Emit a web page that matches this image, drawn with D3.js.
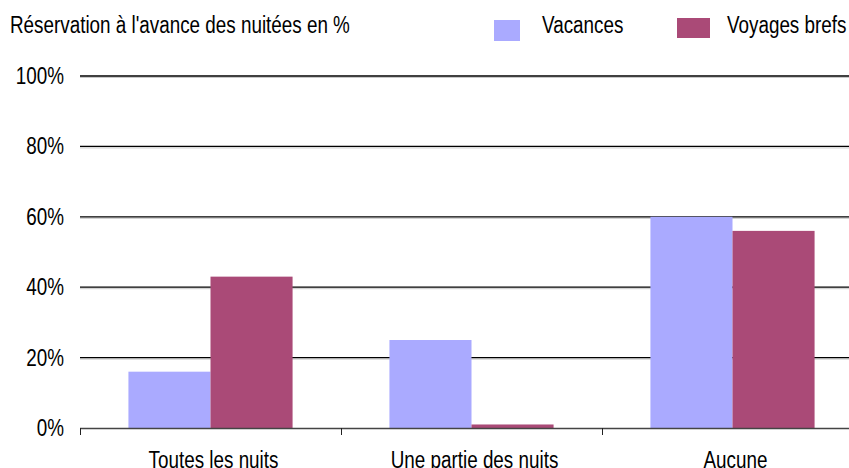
<!DOCTYPE html>
<html><head><meta charset="utf-8">
<script src="https://cdn.jsdelivr.net/npm/d3@7"></script>
<style>body{margin:0;background:#fff}svg{display:block}text{font-family:"Liberation Sans Narrow","Liberation Sans",Arial,sans-serif;fill:#000;font-size:23px}</style>
</head><body><svg id="c" width="849" height="468"></svg>
<script>
const categories = ["Toutes les nuits", "Une partie des nuits", "Aucune"];
const seriesNames = ["Vacances", "Voyages brefs"];
const vacances = [16, 25, 60];
const voyagesBrefs = [43, 1, 56];
const yTicks = [0, 20, 40, 60, 80, 100];
const colors = ["#aaaaff", "#aa4a77"];
const title = "Réservation à l'avance des nuitées en %";

(function () {
const svg = d3.select("#c");
const SX = 0.82;
const mLeft = 80, mRight = 863, mTop = 76, mBottom = 428;
const x = d3.scaleBand().domain(categories).range([mLeft, mRight]).paddingInner(0).paddingOuter(0);
const x1 = d3.scaleBand().domain(seriesNames).range([0, x.bandwidth()]).paddingOuter(0.59).paddingInner(0);
const y = d3.scaleLinear().domain([0, 100]).range([mBottom, mTop]);
const values = [vacances, voyagesBrefs];

function txt(px, py, s, anchor) {
  return svg.append("text").attr("transform", `translate(${px},${py}) scale(${SX},1)`)
    .attr("text-anchor", anchor || "start").text(s);
}

const g = svg.append("g");
yTicks.filter(t => t > 0).forEach(t => {
  g.append("line").attr("x1", mLeft).attr("x2", 849).attr("y1", y(t) + 1.5).attr("y2", y(t) + 1.5).attr("stroke", "#c8c8c8").attr("stroke-width", 1);
  g.append("line").attr("x1", mLeft).attr("x2", 849).attr("y1", y(t)).attr("y2", y(t)).attr("stroke", "#000").attr("stroke-width", 1.3);
});

seriesNames.forEach((s, si) => {
  svg.append("g").selectAll("rect").data(categories).join("rect")
    .attr("x", c => x(c) + x1(s))
    .attr("width", x1.bandwidth())
    .attr("y", (c, i) => y(values[si][i]))
    .attr("height", (c, i) => y(0) - y(values[si][i]))
    .attr("fill", colors[si]);
});

yTicks.forEach(t => txt(64, y(t) + 8, t + "%", "end"));

svg.append("line").attr("x1", mLeft).attr("x2", 849).attr("y1", mBottom + 0.5).attr("y2", mBottom + 0.5).attr("stroke", "#444").attr("stroke-width", 1.5);
const boundaries = categories.map(c => x(c));
svg.append("g").selectAll("line").data(boundaries).join("line")
  .attr("x1", d => Math.round(d) + 0.5).attr("x2", d => Math.round(d) + 0.5)
  .attr("y1", mBottom).attr("y2", mBottom + 7).attr("stroke", "#222").attr("stroke-width", 1);
categories.forEach(c => txt(x(c) + x.bandwidth() / 2 + 3, 468, c, "middle"));

txt(10, 33, title);

const legendX = [494, 677];
const legendY = [20, 18];
const legendW = [26, 33];
const legendH = [21, 20];
seriesNames.forEach((s, i) => {
  svg.append("rect").attr("x", legendX[i]).attr("y", legendY[i]).attr("width", legendW[i]).attr("height", legendH[i]).attr("fill", colors[i]);
  txt(legendX[i] + (i === 0 ? 48 : 50), 33, s);
});
})();
</script></body></html>
